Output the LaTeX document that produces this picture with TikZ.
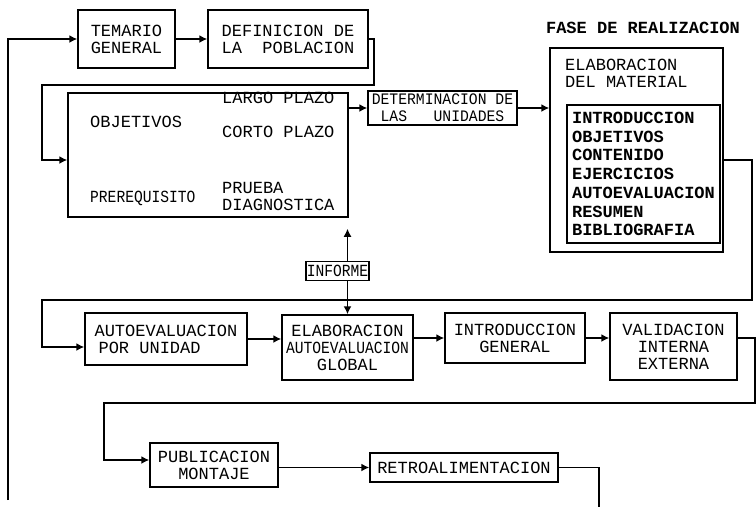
\documentclass[tikz,border=0pt]{standalone}
\usepackage{fontspec}
\setmonofont{Liberation Mono}
\usepackage{graphicx}
\usepackage{tikz}
\usetikzlibrary{arrows.meta, positioning}

\newcommand{\slim}[1]{\scalebox{0.86}[1]{#1}}

\begin{document}
\begin{tikzpicture}[x=1pt, y=-1pt, font=\ttfamily\fontsize{17}{17}\selectfont,
        box/.style={draw, line width=1.5pt, inner sep=0pt, align=center},
        lbl/.style={anchor=west, inner sep=0pt, align=left},
        arr/.style={-{Latex[length=8pt, width=8pt]}, line width=1.5pt}]
        \useasboundingbox (0,0) rectangle (756,507);

        \node (tem) [box, minimum width=97, minimum height=58] at (126.5,39) {TEMARIO\\GENERAL};
        \node (def) [box, minimum width=160, minimum height=58] at (288,39) {DEFINICION DE\\LA~~POBLACION};

        \node (obj) [box, minimum width=280, minimum height=124] at (208,155) {};
        \node (objl) [lbl] at (90,122) {OBJETIVOS};
        \node (largo) [lbl] at (222,98) {LARGO PLAZO};
        \node (corto) [lbl] at (222,132) {CORTO PLAZO};
        \node (prereq) [lbl] at (90,198) {\slim{PREREQUISITO}};
        \node (prueba) [lbl] at (222,196) {PRUEBA\\DIAGNOSTICA};

        \node (det) [box, font=\ttfamily\fontsize{16}{17}\selectfont, minimum width=149, minimum height=34] at (442.5,108) {\scalebox{0.92}[1]{DETERMINACION DE}\\\scalebox{0.92}[1]{LAS~~~UNIDADES}};

        \node (fase) [font=\ttfamily\bfseries\fontsize{17}{17}\selectfont] at (643,28) {FASE DE REALIZACION};
        \node (elab) [box, minimum width=173, minimum height=204] at (636.5,150) {};
        \node (elabl) [lbl] at (565,73) {ELABORACION\\DEL MATERIAL};
        \node (list) [box, align=left, font=\ttfamily\bfseries\fontsize{17}{18.7}\selectfont, minimum width=153, minimum height=138] at (643.5,174) {INTRODUCCION\\OBJETIVOS\\CONTENIDO\\EJERCICIOS\\AUTOEVALUACION\\RESUMEN\\BIBLIOGRAFIA};

        \node (inf) [box, inner xsep=1pt, minimum height=19] at (337.5,271) {\slim{INFORME}};

        \node (aut) [box, align=left, minimum width=162, minimum height=52] at (166,339) {AUTOEVALUACION\\\hspace*{4pt}POR UNIDAD};
        \node (glob) [box, minimum width=131, minimum height=65] at (347.5,347.5) {ELABORACION\\\slim{AUTOEVALUACION}\\GLOBAL};
        \node (intro) [box, minimum width=140, minimum height=50] at (515,338) {INTRODUCCION\\GENERAL};
        \node (val) [box, minimum width=127, minimum height=67] at (673.5,346.5) {VALIDACION\\INTERNA\\EXTERNA};

        \node (pub) [box, minimum width=128, minimum height=44] at (214,465) {PUBLICACION\\MONTAJE};
        \node (retro) [box, minimum width=188, minimum height=29] at (464,467.5) {RETROALIMENTACION};

        \coordinate (back) at (8,500);
        \coordinate (down) at (599,507);

        \path[arr]
        (tem) edge (def)
        (obj.east |- det) edge (det)
        (det) edge (det -| elab.west)
        (inf.north -| glob) edge [shorten >=11pt] (obj.south -| glob)
        (inf.south -| glob) edge (glob)
        (aut) edge (aut -| glob.west)
        (glob.east |- intro) edge (intro)
        (intro) edge (intro -| val.west)
        (pub.east |- retro) edge (retro);

        \draw[arr] (back) |- (tem);
        \draw[arr] (def.east) -- ++(5,0) |- (42,85) |- ([yshift=-5pt]obj.west);
        \draw[arr] (elab.east |- 0,160) -- (752,160) |- (42,300) |- ([yshift=-8pt]aut.west);
        \draw[arr] (val.east |- intro) -- (755,338) |- (104,403) |- ([yshift=5pt]pub.west);
        \draw[line width=1.5pt] (retro) -| (down);

    \end{tikzpicture}
\end{document}
